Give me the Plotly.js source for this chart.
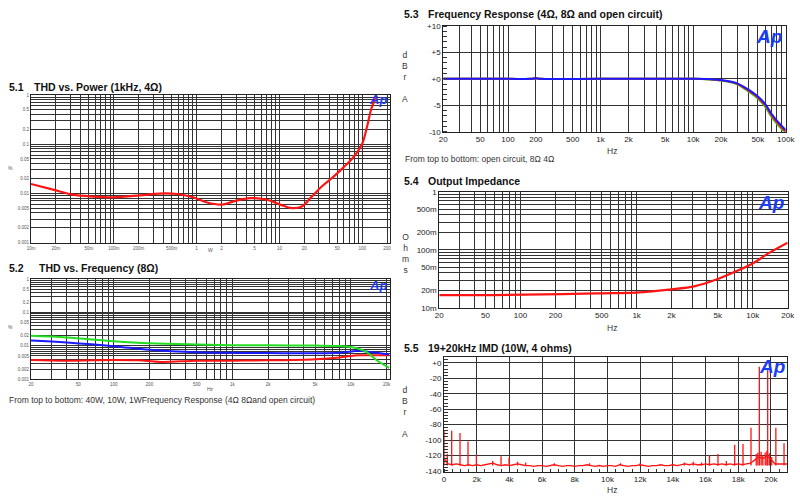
<!DOCTYPE html>
<html>
<head>
<meta charset="utf-8">
<script src="https://cdn.plot.ly/plotly-3.0.1.min.js"></script>
<style>html,body{margin:0;padding:0;background:#fff;}#chart{width:800px;height:500px;}</style>
</head>
<body>
<div id="chart"></div>
<script>
// ---------- 5.1 THD vs Power ----------
const powerW = [0.01, 0.0185, 0.032, 0.056, 0.098, 0.207, 0.361, 0.58, 0.905, 1.34, 2.03, 2.75, 4.42, 7.08, 10.2, 14.2, 18.7, 24.8, 32.7, 44.4, 58.6, 77.4, 99.5, 114, 131, 151];
const thdPowerPct = [0.0155, 0.0119, 0.0094, 0.0086, 0.0083, 0.0091, 0.0099, 0.0097, 0.0083, 0.0065, 0.0059, 0.0068, 0.0080, 0.0074, 0.0059, 0.0050, 0.0054, 0.0087, 0.0139, 0.0213, 0.033, 0.053, 0.10, 0.22, 0.57, 0.95];
const powerTickVals = [0.01, 0.02, 0.05, 0.1, 0.2, 0.5, 1, 2, 5, 10, 20, 50, 100, 200];
const powerTickText = ['10m', '20m', '50m', '100m', '200m', '500m', '1', '2', '5', '10', '20', '50', '100', '200'];
const pctTickVals = [1, 0.5, 0.2, 0.1, 0.05, 0.02, 0.01, 0.005, 0.002, 0.001];
const pctTickText = ['1', '0.5', '0.2', '0.1', '0.05', '0.02', '0.01', '0.005', '0.002', '0.001'];

// ---------- 5.2 THD vs Frequency ----------
const thd40WHz = [20, 40, 100, 200, 500, 1000, 2000, 5000, 8000, 10000, 11500, 13500, 16500, 21000];
const thd40WPct = [0.020, 0.0178, 0.0138, 0.012, 0.011, 0.0105, 0.0104, 0.0102, 0.0099, 0.0093, 0.0083, 0.0066, 0.0037, 0.0022];
const thd10WHz = [20, 40, 100, 200, 500, 1000, 2000, 5000, 8000, 10000, 11500, 13500, 16500, 21000];
const thd10WPct = [0.0145, 0.0126, 0.0098, 0.0076, 0.0064, 0.0062, 0.0061, 0.0060, 0.0062, 0.0068, 0.0071, 0.0068, 0.0062, 0.0055];
const thd1WHz = [20, 40, 100, 160, 250, 500, 1000, 2000, 5000, 8000, 10000, 11500, 13500, 16500, 21000];
const thd1WPct = [0.0038, 0.0036, 0.0038, 0.0037, 0.0033, 0.0036, 0.0036, 0.0037, 0.0040, 0.0045, 0.0050, 0.0052, 0.0052, 0.0052, 0.0052];
const hzTickVals = [20, 50, 100, 200, 500, 1000, 2000, 5000, 10000, 20000, 50000, 100000];
const hzTickText = ['20', '50', '100', '200', '500', '1k', '2k', '5k', '10k', '20k', '50k', '100k'];

// ---------- 5.3 Frequency response ----------
const frHz = [20, 100, 180, 200, 220, 1000, 5000, 10000, 14600, 19500, 29400, 39300, 50500, 59600, 70300, 83000, 100000];
const frOpenDb = [0, 0, 0, 0.1, 0, 0, 0, 0, -0.05, -0.2, -0.8, -2.0, -3.4, -4.7, -6.6, -8.2, -9.7];
const fr8OhmDb = [0, 0, 0, 0.1, 0, 0, 0, 0, -0.07, -0.25, -0.9, -2.2, -3.6, -4.95, -6.9, -8.5, -10.0];
const fr4OhmDb = [0, 0, 0, 0.1, 0, 0, 0, 0, -0.1, -0.3, -1.0, -2.35, -3.8, -5.2, -7.2, -8.8, -10.3];
const dbTickVals = [10, 5, 0, -5, -10];
const dbTickText = ['+10', '+5', '+0', '-5', '-10'];

// ---------- 5.4 Output impedance ----------
const zHz = [20, 60, 226, 500, 968, 2004, 3184, 4731, 7040, 9800, 13640, 20000];
const zOhm = [0.0165, 0.0165, 0.0172, 0.0177, 0.0182, 0.0207, 0.0236, 0.030, 0.0417, 0.0566, 0.0865, 0.132];
const ohmTickVals = [1, 0.5, 0.2, 0.1, 0.05, 0.02, 0.01];
const ohmTickText = ['1', '500m', '200m', '100m', '50m', '20m', '10m'];

// ---------- 5.5 IMD spectrum ----------
const imdFloorHz = [0,250,500,750,1000,1250,1500,1750,2000,2250,2500,2750,3000,3250,3500,3750,4000,4250,4500,4750,5000,5250,5500,5750,6000,6250,6500,6750,7000,7250,7500,7750,8000,8250,8500,8750,9000,9250,9500,9750,10000,10250,10500,10750,11000,11250,11500,11750,12000,12250,12500,12750,13000,13250,13500,13750,14000,14250,14500,14750,15000,15250,15500,15750,16000,16250,16500,16750,17000,17250,17500,17750,18000,18250,18500,18750,19000,19250,19500,19750,20000,20250,20500,20750,21000];
const imdFloorDb = [-124,-131,-132,-131,-132,-133,-132,-133,-132,-133,-132,-131,-130,-132,-133,-132,-133,-132,-131,-132,-133,-133,-134,-133,-133,-134,-133,-132,-133,-134,-133,-133,-134,-133,-133,-132,-133,-134,-133,-134,-133,-133,-134,-132,-133,-134,-133,-133,-132,-133,-134,-133,-133,-132,-133,-133,-132,-133,-132,-131,-132,-131,-132,-132,-131,-132,-131,-132,-131,-132,-131,-132,-131,-132,-131,-130,-126,-122,-124,-121,-125,-131,-131,-131,-131];
const imdSpikeBaseDb = -133;
const imdSpikeHz = [0, 200, 470, 980, 1470, 1980, 2980, 3490, 3980, 4500, 5000, 6750, 8900, 10800, 12000, 14700, 15250, 15750, 16240, 16760, 17270, 17780, 18290, 18780, 19100, 19200, 19290, 19400, 19500, 19650, 19750, 19800, 19900, 20050, 20300, 20800];
const imdSpikeDb = [-87, -118, -88, -91, -102, -119, -127, -121, -123, -128, -129, -130, -130, -130, -130, -129, -128, -129, -120, -118, -127, -106, -105, -84, -118, -116, -5, -115, -120, -116, -114, -8, -117, -122, -84, -104];
const imdXTickVals = [0, 2000, 4000, 6000, 8000, 10000, 12000, 14000, 16000, 18000, 20000];
const imdXTickText = ['0', '2k', '4k', '6k', '8k', '10k', '12k', '14k', '16k', '18k', '20k'];
const imdYTickVals = [0, -20, -40, -60, -80, -100, -120, -140];
const imdYTickText = ['+0', '-20', '-40', '-60', '-80', '-100', '-120', '-140'];

// ---------- helpers ----------
const RED = '#ff1414', GREEN = '#22dd22', BLUE = '#1a1aff';
const px = x => x / 800, py = y => 1 - y / 500;

function logGrid(lo, hi, labVals, labText) {
  const vals = [], text = [];
  for (let e = Math.floor(lo); e <= Math.ceil(hi); e++) {
    for (let m = 1; m <= 9; m++) {
      const v = m * Math.pow(10, e);
      const lv = Math.log10(v);
      if (lv < lo - 1e-9 || lv > hi + 1e-9) continue;
      vals.push(v);
      const idx = labVals.findIndex(a => Math.abs(a / v - 1) < 1e-6);
      text.push(idx >= 0 ? labText[idx] : '');
    }
  }
  return { tickmode: 'array', tickvals: vals, ticktext: text };
}

const tinyFont = { family: 'Liberation Sans, Arial, sans-serif', size: 4.5, color: '#555' };
const tickFont = { family: 'Liberation Sans, Arial, sans-serif', size: 8, color: '#222' };

function baseAxis(extra) {
  return Object.assign({
    showline: true, linecolor: '#222', linewidth: 1, mirror: true,
    showgrid: true, gridcolor: '#333', gridwidth: 1, zeroline: false,
    ticks: '', fixedrange: true
  }, extra);
}

// ---------- traces ----------
const traces = [];
traces.push({ x: powerW, y: thdPowerPct, xaxis: 'x', yaxis: 'y', type: 'scatter', mode: 'lines',
  line: { color: RED, width: 2.2, shape: 'spline' }, hoverinfo: 'skip' });

traces.push({ x: thd1WHz, y: thd1WPct, xaxis: 'x2', yaxis: 'y2', mode: 'lines', line: { color: RED, width: 2, shape: 'spline' } });
traces.push({ x: thd10WHz, y: thd10WPct, xaxis: 'x2', yaxis: 'y2', mode: 'lines', line: { color: BLUE, width: 2, shape: 'spline' } });
traces.push({ x: thd40WHz, y: thd40WPct, xaxis: 'x2', yaxis: 'y2', mode: 'lines', line: { color: GREEN, width: 2, shape: 'spline' } });

traces.push({ x: frHz, y: fr4OhmDb, xaxis: 'x3', yaxis: 'y3', mode: 'lines', line: { color: GREEN, width: 2, shape: 'spline' } });
traces.push({ x: frHz, y: fr8OhmDb, xaxis: 'x3', yaxis: 'y3', mode: 'lines', line: { color: RED, width: 2, shape: 'spline' } });
traces.push({ x: frHz, y: frOpenDb, xaxis: 'x3', yaxis: 'y3', mode: 'lines', line: { color: BLUE, width: 2, shape: 'spline' } });

traces.push({ x: zHz, y: zOhm, xaxis: 'x4', yaxis: 'y4', mode: 'lines', line: { color: RED, width: 2.2, shape: 'spline' } });

const spikeX = [], spikeY = [];
imdSpikeHz.forEach((f, i) => { spikeX.push(f, f, null); spikeY.push(imdSpikeBaseDb, imdSpikeDb[i], null); });
traces.push({ x: imdFloorHz, y: imdFloorDb, xaxis: 'x5', yaxis: 'y5', mode: 'lines', line: { color: RED, width: 1.3 } });
traces.push({ x: spikeX, y: spikeY, xaxis: 'x5', yaxis: 'y5', mode: 'lines', line: { color: RED, width: 1.3 } });

// ---------- annotations ----------
const ann = [];
function txt(x, y, text, font, xanchor, yanchor, align) {
  ann.push({ xref: 'paper', yref: 'paper', x: px(x), y: py(y), text: text, showarrow: false,
    xanchor: xanchor || 'left', yanchor: yanchor || 'middle', align: align || 'left', font: font });
}
const titleFont = { family: 'Liberation Sans, Arial, sans-serif', size: 10.5, color: '#111', weight: 'bold' };
const capFont = { family: 'Liberation Sans, Arial, sans-serif', size: 8.5, color: '#333' };
const axTitleFont = { family: 'Liberation Sans, Arial, sans-serif', size: 8.5, color: '#333' };
const logoFontS = { family: 'Liberation Sans, Arial, sans-serif', size: 13, color: '#1a3cf5', weight: 'bold', style: 'italic' };
const logoFontL = { family: 'Liberation Sans, Arial, sans-serif', size: 19, color: '#1a3cf5', weight: 'bold', style: 'italic' };

txt(7, 87, '<b>5.1</b>', titleFont);  txt(32, 87, '<b>THD vs. Power (1kHz, 4Ω)</b>', titleFont);
txt(7, 268, '<b>5.2</b>', titleFont); txt(37, 268, '<b>THD vs. Frequency (8Ω)</b>', titleFont);
txt(402, 14, '<b>5.3</b>', titleFont); txt(426, 14, '<b>Frequency Response (4Ω, 8Ω and open circuit)</b>', titleFont);
txt(402, 181, '<b>5.4</b>', titleFont); txt(426, 181, '<b>Output Impedance</b>', titleFont);
txt(402, 348, '<b>5.5</b>', titleFont); txt(426, 348, '<b>19+20kHz IMD (10W, 4 ohms)</b>', titleFont);

txt(7, 400, 'From top to bottom: 40W, 10W, 1WFrequency Response (4Ω 8Ωand open circuit)', capFont);
txt(403, 159, 'From top to bottom: open circuit, 8Ω 4Ω', capFont);

txt(10, 168, '%', { family: 'Liberation Sans, Arial', size: 5, color: '#555' }, 'center');
txt(210, 250, 'W', { family: 'Liberation Sans, Arial', size: 5, color: '#555' }, 'center');
txt(10, 327, '%', { family: 'Liberation Sans, Arial', size: 5, color: '#555' }, 'center');
txt(210, 389, 'Hz', { family: 'Liberation Sans, Arial', size: 5, color: '#555' }, 'center');

txt(405, 77, 'd<br>B<br>r<br><br>A', axTitleFont, 'center', 'middle', 'center');
txt(406, 253, 'O<br>h<br>m<br>s', axTitleFont, 'center', 'middle', 'center');
txt(405, 412, 'd<br>B<br>r<br><br>A', axTitleFont, 'center', 'middle', 'center');
txt(612, 151, 'Hz', axTitleFont, 'center');
txt(612, 328, 'Hz', axTitleFont, 'center');
txt(612, 490, 'Hz', axTitleFont, 'center');

txt(389, 100, '<b><i>Ap</i></b>', logoFontS, 'right');
txt(389, 285, '<b><i>Ap</i></b>', logoFontS, 'right');
txt(784, 37, '<b><i>Ap</i></b>', logoFontL, 'right');
txt(786, 202, '<b><i>Ap</i></b>', logoFontL, 'right');
txt(787, 366, '<b><i>Ap</i></b>', logoFontL, 'right');

// ---------- layout ----------
const layout = {
  width: 800, height: 500, autosize: false,
  margin: { l: 0, r: 0, t: 0, b: 0 },
  paper_bgcolor: '#fff', plot_bgcolor: '#fff',
  showlegend: false, hovermode: false,
  xaxis: baseAxis(Object.assign({ type: 'log', domain: [px(31), px(390)], range: [-2, 2.336], anchor: 'y', tickfont: tinyFont, ticklabelstandoff: 1 },
    logGrid(-2, 2.336, powerTickVals, powerTickText))),
  yaxis: baseAxis(Object.assign({ type: 'log', domain: [py(242.5), py(95)], range: [-3, 0], anchor: 'x', tickfont: tinyFont },
    logGrid(-3, 0, pctTickVals, pctTickText))),
  xaxis2: baseAxis(Object.assign({ type: 'log', domain: [px(31), px(390)], range: [Math.log10(20), 4.33], anchor: 'y2', tickfont: tinyFont },
    logGrid(Math.log10(20), 4.33, hzTickVals, hzTickText))),
  yaxis2: baseAxis(Object.assign({ type: 'log', domain: [py(379.3), py(279)], range: [-3, 0], anchor: 'x2', tickfont: tinyFont },
    logGrid(-3, 0, pctTickVals, pctTickText))),
  xaxis3: baseAxis(Object.assign({ type: 'log', domain: [px(443.3), px(785.7)], range: [Math.log10(20), 5], anchor: 'y3', tickfont: tickFont },
    logGrid(Math.log10(20), 5, hzTickVals, hzTickText))),
  yaxis3: baseAxis({ domain: [py(131.7), py(26)], range: [-10, 10], anchor: 'x3', tickfont: tickFont,
    tickmode: 'array', tickvals: dbTickVals, ticktext: dbTickText,
    minor: { tickmode: 'linear', tick0: 0, dtick: 1, ticks: 'inside', ticklen: 4, tickcolor: '#333', showgrid: false } }),
  xaxis4: baseAxis(Object.assign({ type: 'log', domain: [px(439.3), px(787.7)], range: [Math.log10(20), Math.log10(20000)], anchor: 'y4', tickfont: tickFont },
    logGrid(Math.log10(20), Math.log10(20000), hzTickVals, hzTickText))),
  yaxis4: baseAxis(Object.assign({ type: 'log', domain: [py(307.7), py(191.7)], range: [-2, 0], anchor: 'x4', tickfont: tickFont },
    logGrid(-2, 0, ohmTickVals, ohmTickText))),
  xaxis5: baseAxis({ domain: [px(444), px(787.3)], range: [0, 21000], anchor: 'y5', tickfont: tickFont,
    tickmode: 'array', tickvals: imdXTickVals, ticktext: imdXTickText,
    minor: { tickmode: 'linear', tick0: 0, dtick: 500, ticks: 'inside', ticklen: 3, tickcolor: '#333', showgrid: false } }),
  yaxis5: baseAxis({ domain: [py(471.7), py(356.7)], range: [-141, 8], anchor: 'x5', tickfont: tickFont,
    tickmode: 'array', tickvals: imdYTickVals, ticktext: imdYTickText,
    minor: { tickmode: 'linear', tick0: 0, dtick: 4, ticks: 'inside', ticklen: 4, tickcolor: '#333', showgrid: false } }),
  annotations: ann
};

Plotly.newPlot('chart', traces, layout, { staticPlot: true, displayModeBar: false });
</script>
</body>
</html>
